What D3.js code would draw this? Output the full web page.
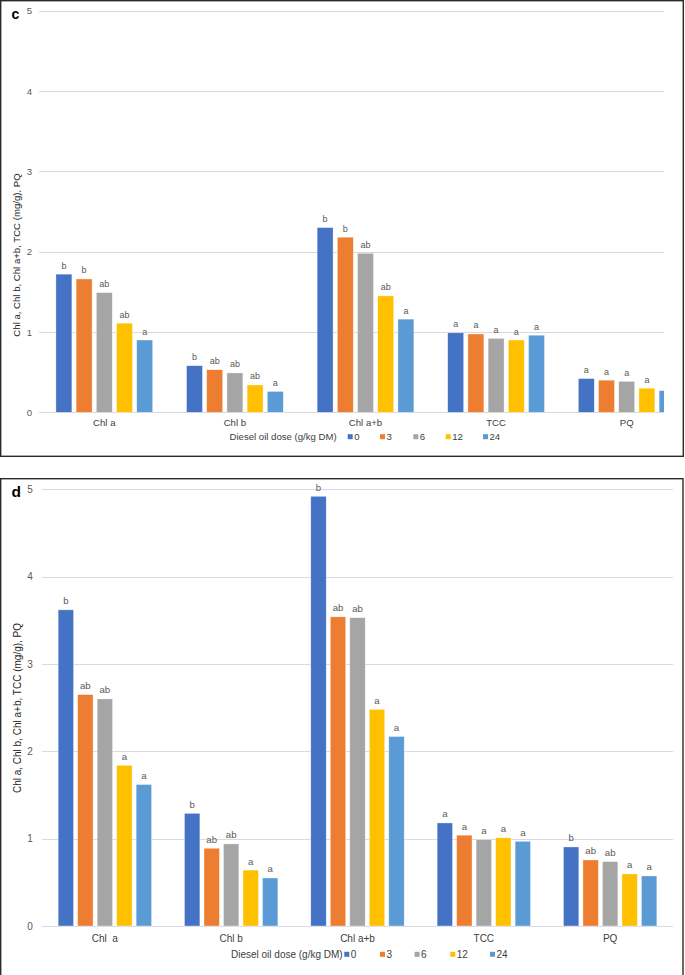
<!DOCTYPE html>
<html><head><meta charset="utf-8">
<script src="https://cdn.jsdelivr.net/npm/d3@7"></script>
<style>
html,body{margin:0;padding:0;background:#fff;}
svg{display:block;font-family:"Liberation Sans",Arial,sans-serif;}
</style></head>
<body>
<svg id="chart" width="685" height="975"></svg>
<script>
// ---------- data ----------
const categoriesC = ["Chl a", "Chl b", "Chl a+b", "TCC", "PQ"];
const categoriesD = ["Chl  a", "Chl b", "Chl a+b", "TCC", "PQ"];
const doses = ["0", "3", "6", "12", "24"];
const colors = ["#4472C4", "#ED7D31", "#A5A5A5", "#FFC000", "#5B9BD5"];
const yTicks = [0, 1, 2, 3, 4, 5];
const legendTitle = "Diesel oil dose (g/kg DM)";
const yTitle = "Chl a, Chl b, Chl a+b, TCC (mg/g), PQ";

// panel c values (per dose, across categories)
const cDose0  = [1.72, 0.58, 2.30, 0.99, 0.42];
const cDose3  = [1.66, 0.53, 2.18, 0.975, 0.40];
const cDose6  = [1.49, 0.49, 1.98, 0.92, 0.385];
const cDose12 = [1.11, 0.34, 1.45, 0.90, 0.30];
const cDose24 = [0.90, 0.26, 1.16, 0.96, 0.27];
const cLet0  = ["b", "b", "b", "a", "a"];
const cLet3  = ["b", "ab", "b", "a", "a"];
const cLet6  = ["ab", "ab", "ab", "a", "a"];
const cLet12 = ["ab", "ab", "ab", "a", "a"];
const cLet24 = ["a", "a", "a", "a", "a"];

// panel d values
const dDose0  = [3.62, 1.29, 4.92, 1.18, 0.905];
const dDose3  = [2.65, 0.89, 3.54, 1.04, 0.756];
const dDose6  = [2.60, 0.94, 3.53, 0.99, 0.737];
const dDose12 = [1.84, 0.64, 2.48, 1.01, 0.596];
const dDose24 = [1.62, 0.55, 2.17, 0.97, 0.573];
const dLet0  = ["b", "b", "b", "a", "b"];
const dLet3  = ["ab", "ab", "ab", "a", "ab"];
const dLet6  = ["ab", "ab", "ab", "a", "ab"];
const dLet12 = ["a", "a", "a", "a", "a"];
const dLet24 = ["a", "a", "a", "a", "a"];

const svg = d3.select("#chart");

function panel(o) {
  const g = svg.append("g");
  // frame
  g.append("rect").attr("x", o.frame[0]).attr("y", o.frame[1])
    .attr("width", o.frame[2]).attr("height", o.frame[3])
    .attr("fill", "#fff").attr("stroke", "#2b2b2b").attr("stroke-width", 1.4);

  const y = d3.scaleLinear().domain([0, 5]).range([o.y0, o.y5]);
  const x0 = d3.scaleBand().domain(o.categories).range([o.xl, o.xr]).paddingInner(0).paddingOuter(0);
  const step = o.barStep;
  const x1 = d3.scaleBand().domain(doses)
    .range([x0.bandwidth() / 2 - 2.5 * step, x0.bandwidth() / 2 + 2.5 * step])
    .paddingInner(0.21).paddingOuter(0.105);

  const clipId = "clip" + o.id;
  g.append("clipPath").attr("id", clipId).append("rect")
    .attr("x", o.xl - 2).attr("y", 0).attr("width", o.clipR - o.xl + 2).attr("height", 975);

  // gridlines
  g.append("g").selectAll("line").data(yTicks).join("line")
    .attr("x1", o.xl).attr("x2", o.clipR)
    .attr("y1", d => Math.round(y(d)) + 0.5).attr("y2", d => Math.round(y(d)) + 0.5)
    .attr("stroke", o.grid).attr("stroke-width", 1);

  // y axis labels
  const ax = g.append("g").attr("transform", `translate(${o.xl - o.tickGap},0)`)
    .call(d3.axisLeft(y).tickValues(yTicks).tickSize(0).tickPadding(0).tickFormat(d3.format("d")));
  ax.select(".domain").remove();
  ax.selectAll("text").attr("fill", "#595959").style("font-size", o.fs + "px")
    .style("font-family", "Liberation Sans, Arial, sans-serif");

  // bars
  const plot = g.append("g").attr("clip-path", `url(#${clipId})`);
  const groups = plot.selectAll("g.grp").data(o.categories).join("g")
    .attr("transform", d => `translate(${x0(d)},0)`);
  groups.each(function (cat, ci) {
    const rows = doses.map((ds, si) => ({ dose: ds, v: o.series[si][ci], l: o.letters[si][ci], c: colors[si] }));
    const gg = d3.select(this);
    gg.selectAll("rect").data(rows).join("rect")
      .attr("x", d => x1(d.dose)).attr("width", x1.bandwidth())
      .attr("y", d => y(d.v)).attr("height", d => y(0) - y(d.v))
      .attr("fill", d => d.c).attr("stroke", "#ffffff").attr("stroke-opacity", 0.6).attr("stroke-width", 0.6);
    gg.selectAll("text").data(rows).join("text")
      .attr("x", d => x1(d.dose) + x1.bandwidth() / 2).attr("y", d => y(d.v) - 5.5)
      .attr("text-anchor", "middle").attr("fill", "#595959")
      .style("font-size", o.letterFs + "px").text(d => d.l);
  });

  // category labels
  g.append("g").selectAll("text").data(o.categories).join("text")
    .attr("x", d => x0(d) + x0.bandwidth() / 2).attr("y", o.catY)
    .attr("text-anchor", "middle").attr("fill", "#404040")
    .style("font-size", o.fs + "px").style("white-space", "pre").text(d => d);

  // legend
  const lg = g.append("g");
  lg.append("text").attr("x", o.legX[0] - o.legTitleGap).attr("y", o.legY + 3.5)
    .attr("text-anchor", "end").attr("fill", "#404040").style("font-size", o.fs + "px").text(legendTitle);
  doses.forEach((ds, i) => {
    lg.append("rect").attr("x", o.legX[i]).attr("y", o.legY - 2.5).attr("width", 5).attr("height", 5).attr("fill", colors[i]);
    lg.append("text").attr("x", o.legX[i] + 6.5).attr("y", o.legY + 3.5).attr("fill", "#404040")
      .style("font-size", o.fs + "px").text(ds);
  });

  // y title
  g.append("text").attr("transform", `translate(${o.titleX},${o.titleY}) rotate(-90)`)
    .attr("text-anchor", "middle").attr("fill", "#262626").style("font-size", o.fs + "px").text(yTitle);

  // panel letter
  g.append("text").attr("x", o.letterPos[0]).attr("y", o.letterPos[1]).attr("font-weight", "bold")
    .attr("fill", "#000").style("font-size", o.letterSize + "px").text(o.id);
}

panel({
  id: "c", frame: [0.7, 0.7, 682.6, 455.6],
  categories: categoriesC,
  series: [cDose0, cDose3, cDose6, cDose12, cDose24],
  letters: [cLet0, cLet3, cLet6, cLet12, cLet24],
  y0: 412.3, y5: 10.7, xl: 39, xr: 692, clipR: 664, barStep: 20.2,
  grid: "#d9d9d9", tickGap: 7, fs: 9.6, letterFs: 9,
  catY: 426, legY: 436.7, legX: [347.7, 380, 413.3, 445.7, 483], legTitleGap: 11,
  titleX: 20, titleY: 255, letterPos: [11.5, 18.5], letterSize: 14
});

panel({
  id: "d", frame: [0.7, 478.7, 682.3, 500],
  categories: categoriesD,
  series: [dDose0, dDose3, dDose6, dDose12, dDose24],
  letters: [dLet0, dLet3, dLet6, dLet12, dLet24],
  y0: 926, y5: 489.3, xl: 41.7, xr: 673.3, clipR: 673.3, barStep: 19.5,
  grid: "#d9dae8", tickGap: 9, fs: 10, letterFs: 9.6,
  catY: 942, legY: 954.3, legX: [344.3, 380, 414.6, 450.3, 490], legTitleGap: 1.6,
  titleX: 21, titleY: 708, letterPos: [11.5, 496.7], letterSize: 15.5
});
</script>
</body></html>
